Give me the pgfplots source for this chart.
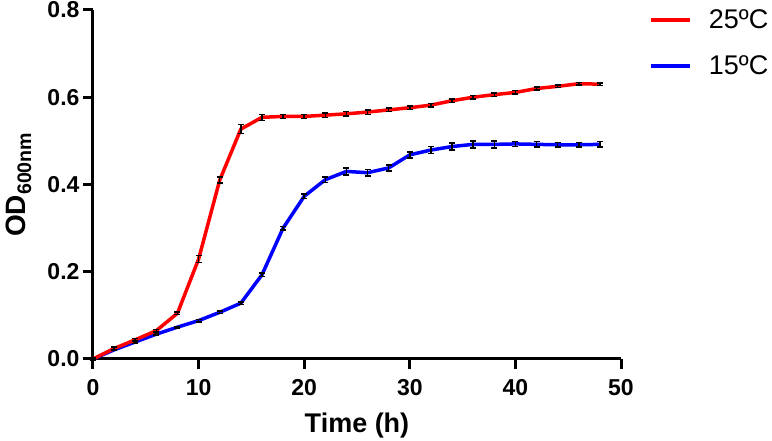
\documentclass[border=0pt]{standalone}
\usepackage{fontspec}
\setmainfont{Liberation Sans}
\usepackage{pgfplots}
\pgfplotsset{compat=1.18}
\usepackage{pgfplotstable}

\pgfplotstableread{
t v e
0 0.000 0.002
2 0.024 0.003
4 0.044 0.003
6 0.065 0.003
8 0.105 0.003
10 0.229 0.008
12 0.410 0.007
14 0.527 0.010
16 0.554 0.007
18 0.556 0.005
20 0.556 0.005
22 0.559 0.005
24 0.562 0.005
26 0.566 0.005
28 0.571 0.004
30 0.576 0.004
32 0.582 0.004
34 0.592 0.004
36 0.600 0.004
38 0.606 0.004
40 0.611 0.004
42 0.620 0.003
44 0.625 0.003
46 0.631 0.003
48 0.630 0.003
}\warm

\pgfplotstableread{
t v e
0 0.000 0.002
2 0.021 0.002
4 0.039 0.002
6 0.057 0.002
8 0.073 0.002
10 0.088 0.003
12 0.107 0.003
14 0.128 0.003
16 0.193 0.004
18 0.300 0.004
20 0.373 0.005
22 0.411 0.006
24 0.430 0.008
26 0.427 0.007
28 0.438 0.007
30 0.468 0.007
32 0.479 0.008
34 0.487 0.008
36 0.492 0.008
38 0.492 0.008
40 0.493 0.006
42 0.492 0.006
44 0.491 0.005
46 0.491 0.005
48 0.492 0.006
}\cold

\begin{document}
\begin{tikzpicture}
\useasboundingbox (0,0) rectangle (772pt,441pt);
\begin{axis}[
  at={(93pt,82pt)}, anchor=south west,
  scale only axis, width=528pt, height=349pt,
  xmin=0, xmax=50, ymin=0, ymax=0.8,
  axis lines*=left,
  axis line style={-, line width=3pt, black},
  xtick={0,10,20,30,40,50},
  xticklabels={0,10,20,30,40,50},
  ytick={0,0.2,0.4,0.6,0.8},
  yticklabels={0.0,0.2,0.4,0.6,0.8},
  tick align=outside,
  major tick length=10pt,
  tick style={line width=3pt, black},
  ticklabel style={font=\bfseries\fontsize{23}{27}\selectfont},
  xticklabel style={yshift=-7pt},
  xlabel={\bfseries Time (h)},
  ylabel={\bfseries OD\textsubscript{600nm}},
  every axis x label/.style={at={(rel axis cs:0.5,0)}, anchor=base, yshift=-74pt, font=\fontsize{27}{32}\selectfont},
  every axis y label/.style={at={(rel axis cs:0,0.5)}, xshift=-67pt, rotate=90, anchor=base, font=\fontsize{28}{33}\selectfont},
  clip=false,
  reverse legend,
  legend image code/.code={\draw[#1, line width=3.5pt] (0pt,0pt) -- (39pt,0pt); \path[draw=none, fill=none] (0pt,-23pt) rectangle (58pt,23pt);},
  legend style={draw=none, fill=none, at={(rel axis cs:1.053,1.038)}, anchor=north west,
    inner sep=0pt, row sep=0pt, font=\fontsize{27}{32}\selectfont, legend cell align=left,
    nodes={inner sep=0pt}},
]
\addplot[blue, line width=3.5pt, mark=none,
  error bars/.cd, y dir=both, y explicit,
  error bar style={black, line width=1.5pt},
  error mark options={black, rotate=90, mark size=3pt, line width=1.5pt}]
  table[x=t, y=v, y error=e] {\cold};
\addlegendentry{15ºC}
\addplot[red, line width=3.5pt, mark=none,
  error bars/.cd, y dir=both, y explicit,
  error bar style={black, line width=1.5pt},
  error mark options={black, rotate=90, mark size=3pt, line width=1.5pt}]
  table[x=t, y=v, y error=e] {\warm};
\addlegendentry{25ºC}
\end{axis}
\end{tikzpicture}
\end{document}
